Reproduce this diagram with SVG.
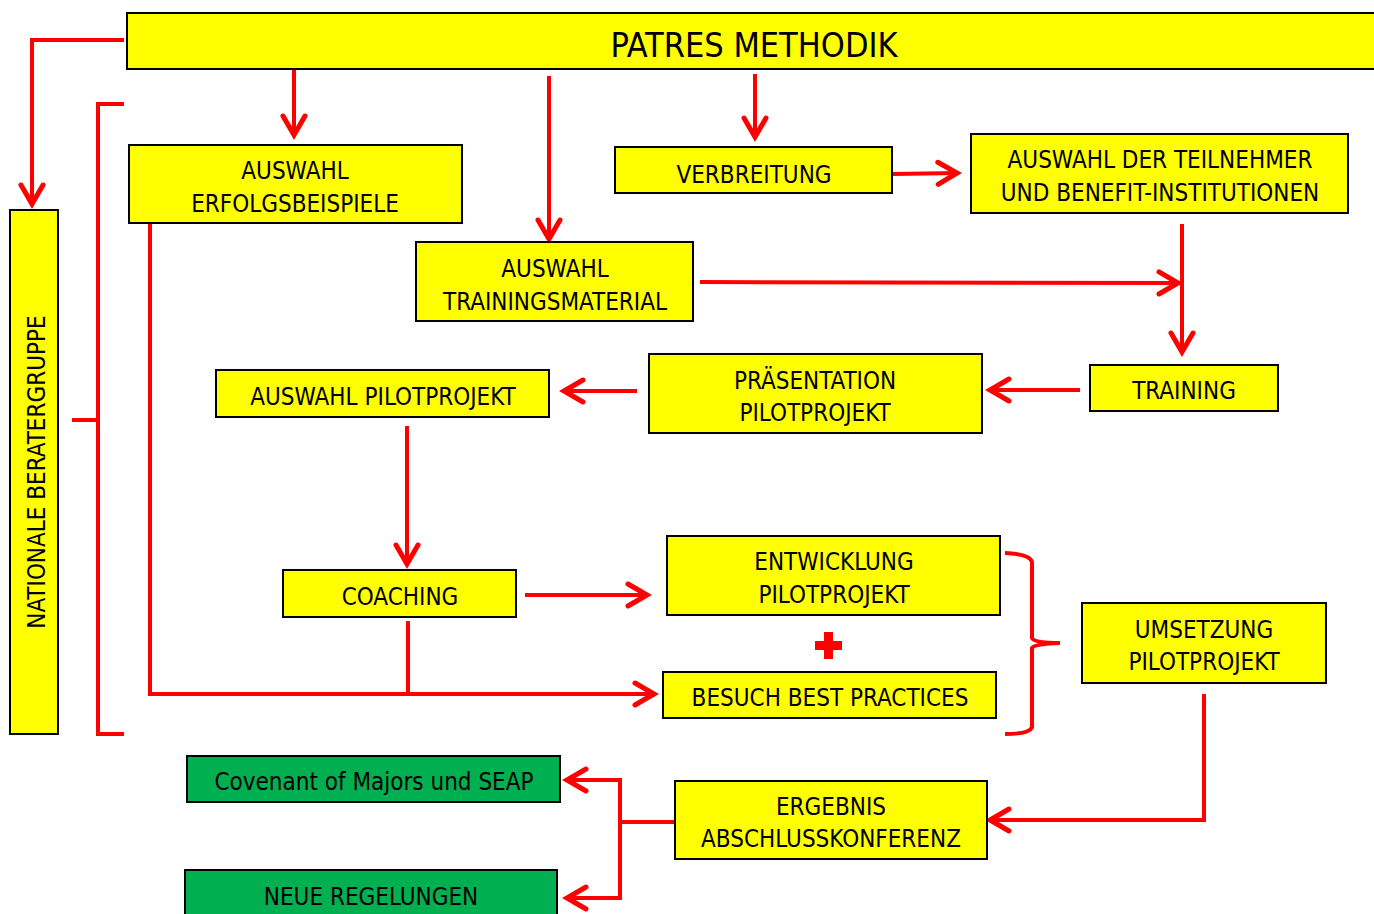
<svg xmlns="http://www.w3.org/2000/svg" width="1374" height="914" viewBox="0 0 1374 914">
<style>
.y{fill:#FFFF00;stroke:#000;stroke-width:2}
.g{fill:#00B050;stroke:#000;stroke-width:2}
.t{font-family:"Liberation Sans Narrow","Arial Narrow","DejaVu Sans Condensed",sans-serif;font-size:24px;fill:#000;text-anchor:middle}
.c{fill:none;stroke:#FF0000;stroke-width:4;stroke-linejoin:miter}
</style>
<defs>
<marker id="ah" markerUnits="userSpaceOnUse" viewBox="-24 -14 28 28" refX="0" refY="0" markerWidth="28" markerHeight="28" orient="auto" overflow="visible">
<path d="M-19,-11 L0,0 L-19,11" fill="none" stroke="#FF0000" stroke-width="5" stroke-linecap="round" stroke-linejoin="miter"/>
</marker>
</defs>
<rect width="1374" height="914" fill="#fff"/>
<g id="connectors">
<path class="c" d="M124,40 H32 V204" marker-end="url(#ah)"/>
<path class="c" d="M124,104 H98 V734 H124 M98,420 H72"/>
<path class="c" d="M294,70 V135" marker-end="url(#ah)"/>
<path class="c" d="M549,76 V239" marker-end="url(#ah)"/>
<path class="c" d="M755,74 V137" marker-end="url(#ah)"/>
<path class="c" d="M893,174 L957,173" marker-end="url(#ah)"/>
<path class="c" d="M1182,224 V352" marker-end="url(#ah)"/>
<path class="c" d="M700,282 L1178,283" marker-end="url(#ah)"/>
<path class="c" d="M1080,390 H990" marker-end="url(#ah)"/>
<path class="c" d="M637,391 H564" marker-end="url(#ah)"/>
<path class="c" d="M407,426 V564" marker-end="url(#ah)"/>
<path class="c" d="M525,595 H647" marker-end="url(#ah)"/>
<path class="c" d="M150,224 V694 H654" marker-end="url(#ah)"/>
<path class="c" d="M408,621 V694"/>
<path class="c" d="M1005,553 Q1030,554 1032,562 V638 Q1034,643 1060,643 Q1034,644 1032,648 V727 Q1030,734 1005,734"/>
<path class="c" d="M1204,694 V820 H990" marker-end="url(#ah)"/>
<path class="c" d="M675,822 H620"/>
<path class="c" d="M620,780 V898"/>
<path class="c" d="M622,780 H567" marker-end="url(#ah)"/>
<path class="c" d="M622,898 H567" marker-end="url(#ah)"/>
<path d="M824,632 h9 v9 h9 v9 h-9 v9 h-9 v-9 h-9 v-9 h9 z" fill="#FF0000"/>
</g>
<g id="patres"><rect class="y" x="127" y="13" width="1260" height="56"/><text class="t" x="754" y="57" style="font-size:34px">PATRES METHODIK</text></g>
<g id="beratergruppe"><rect class="y" x="10" y="210" width="48" height="524"/><text class="t" transform="translate(44.5,472) rotate(-90)" x="0" y="0">NATIONALE BERATERGRUPPE</text></g>
<g id="erfolgsbeispiele"><rect class="y" x="129" y="145" width="333" height="78"/><text class="t" x="295" y="179">AUSWAHL</text><text class="t" x="295" y="212">ERFOLGSBEISPIELE</text></g>
<g id="trainingsmaterial"><rect class="y" x="416" y="242" width="277" height="79"/><text class="t" x="555" y="277">AUSWAHL</text><text class="t" x="555" y="310">TRAININGSMATERIAL</text></g>
<g id="verbreitung"><rect class="y" x="615" y="147" width="277" height="46"/><text class="t" x="754" y="183">VERBREITUNG</text></g>
<g id="teilnehmer"><rect class="y" x="971" y="134" width="377" height="79"/><text class="t" x="1160" y="168">AUSWAHL DER TEILNEHMER</text><text class="t" x="1160" y="201">UND BENEFIT-INSTITUTIONEN</text></g>
<g id="training"><rect class="y" x="1090" y="365" width="188" height="46"/><text class="t" x="1184" y="399">TRAINING</text></g>
<g id="praesentation"><rect class="y" x="649" y="354" width="333" height="79"/><text class="t" x="815" y="389">PRÄSENTATION</text><text class="t" x="815" y="421">PILOTPROJEKT</text></g>
<g id="auswahl-pilot"><rect class="y" x="216" y="370" width="333" height="47"/><text class="t" x="383" y="405">AUSWAHL PILOTPROJEKT</text></g>
<g id="coaching"><rect class="y" x="283" y="570" width="233" height="47"/><text class="t" x="400" y="605">COACHING</text></g>
<g id="entwicklung"><rect class="y" x="667" y="536" width="333" height="79"/><text class="t" x="834" y="570">ENTWICKLUNG</text><text class="t" x="834" y="603">PILOTPROJEKT</text></g>
<g id="besuch"><rect class="y" x="663" y="672" width="333" height="46"/><text class="t" x="830" y="706">BESUCH BEST PRACTICES</text></g>
<g id="umsetzung"><rect class="y" x="1082" y="603" width="244" height="80"/><text class="t" x="1204" y="638">UMSETZUNG</text><text class="t" x="1204" y="670">PILOTPROJEKT</text></g>
<g id="ergebnis"><rect class="y" x="675" y="781" width="312" height="78"/><text class="t" x="831" y="815">ERGEBNIS</text><text class="t" x="831" y="847">ABSCHLUSSKONFERENZ</text></g>
<g id="covenant"><rect class="g" x="187" y="756" width="373" height="46"/><text class="t" x="374" y="790">Covenant of Majors und SEAP</text></g>
<g id="regelungen"><rect class="g" x="185" y="870" width="372" height="60"/><text class="t" x="371" y="905">NEUE REGELUNGEN</text></g>
</svg>
